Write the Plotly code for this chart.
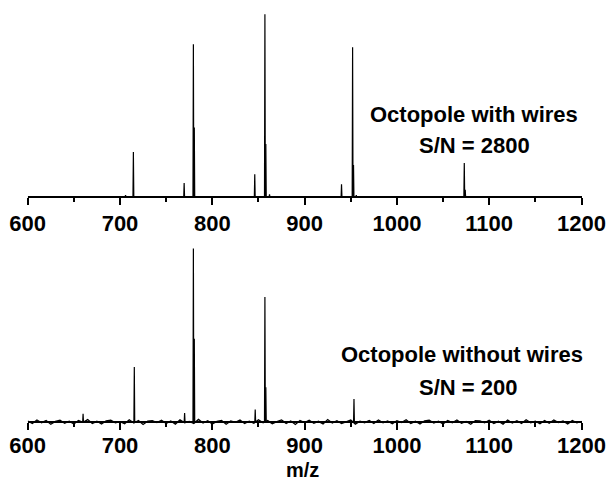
import plotly.graph_objects as go

W, H = 606, 482

# ---- data (relative intensity, %) ----
top_mz = [706, 714.5, 769.5, 779.5, 780.5, 846, 857, 858, 862, 940, 952, 953, 956, 1073, 1074]
top_int = [1.0, 24.6, 7.7, 83.6, 38.0, 12.4, 100.0, 29.0, 1.5, 7.0, 82.0, 17.5, 1.0, 18.6, 4.0]

bot_mz = [660, 715.5, 770, 779.5, 780.5, 846.5, 857, 858, 953.5]
bot_int = [4.8, 31.7, 5.2, 100.0, 48.0, 7.2, 72.1, 20.0, 13.3]

noise_start, noise_step = 600, 5
noise = [0.6, -0.9, 1.2, -0.4, 0.8, -1.3, 0.3, 1.0, -0.7, 0.5,
         -1.1, 0.9, -0.2, 1.4, -0.8, 0.4, -1.2, 0.7, 1.1, -0.5,
         0.2, -1.0, 1.3, -0.6, 0.9, -1.4, 0.5, 0.8, -0.3, 1.0,
         -0.9, 0.6, -1.2, 1.2, -0.4, 0.3, -0.8, 1.5, -0.6, 0.7,
         -1.1, 0.4, 0.9, -1.3, 0.6, -0.2, 1.1, -0.9, 0.5, -0.7,
         1.3, -0.5, 0.8, -1.0, 0.2, 1.2, -0.8, 0.6, -1.4, 0.9,
         -0.3, 1.0, -0.7, 0.4, -1.1, 1.4, -0.6, 0.7, -0.9, 0.3,
         1.1, -1.2, 0.5, -0.4, 0.9, -0.8, 1.2, -0.5, 0.6, -1.0,
         0.8, -0.3, 1.3, -0.9, 0.4, -1.2, 0.7, 1.0, -0.6, 0.5,
         -1.1, 0.9, -0.4, 1.2, -0.7, 0.3, -1.3, 0.8, 0.6, -0.5,
         1.0, -0.9, 0.4, -1.2, 1.1, -0.6, 0.7, -0.8, 1.3, -0.4,
         0.5, -1.0, 0.9, -0.7, 1.2, -0.3, 0.6, -1.1, 0.8, -0.5, 0.4]

tick_vals = [600, 700, 800, 900, 1000, 1100, 1200]
tick_text = ["600", "700", "800", "900", "1000", "1100", "1200"]
minor_vals = [650, 750, 850, 950, 1050, 1150]

labels_top = ["Octopole with wires", "S/N = 2800"]
labels_bot = ["Octopole without wires", "S/N = 200"]
xlabel = "m/z"

FONT = "Arial, Liberation Sans, Helvetica, sans-serif"


def spikes(mz, inten):
    xs, ys = [], []
    for m, h in sorted(zip(mz, inten)):
        xs += [m - 0.45, m, m + 0.45, None]
        ys += [0, h, 0, None]
    return xs, ys


def py(p):
    return 1 - p / H


fig = go.Figure()

# top spectrum
tx, ty = spikes(top_mz, top_int)
fig.add_trace(go.Scatter(x=[600, 1200], y=[0, 0], mode="lines",
                         line=dict(color="black", width=1), xaxis="x", yaxis="y",
                         hoverinfo="skip"))
fig.add_trace(go.Scatter(x=tx, y=ty, mode="lines", line=dict(color="black", width=1.2),
                         xaxis="x", yaxis="y", connectgaps=False))

# bottom spectrum
nx = [noise_start + i * noise_step for i in range(len(noise))]
fig.add_trace(go.Scatter(x=nx, y=noise, mode="lines", line=dict(color="black", width=1.3),
                         xaxis="x2", yaxis="y2"))
bx, by = spikes(bot_mz, bot_int)
fig.add_trace(go.Scatter(x=bx, y=by, mode="lines", line=dict(color="black", width=1.2),
                         xaxis="x2", yaxis="y2", connectgaps=False))

xdom = [27.7 / W, 581.5 / W]
axis_common = dict(
    range=[600, 1200], domain=xdom, tickvals=tick_vals, ticktext=tick_text,
    ticks="outside", ticklen=7, tickwidth=2, tickcolor="black",
    showline=True, linewidth=2, linecolor="black",
    showgrid=False, zeroline=False, automargin=False,
    tickfont=dict(family=FONT, size=22, color="black", weight="bold"),
    minor=dict(tickvals=minor_vals, ticks="outside", ticklen=4, tickwidth=1.5,
               tickcolor="black", showgrid=False),
    fixedrange=True,
)

top_scale = 182.7 / 100.0
bot_scale = 173.4 / 100.0

fig.update_layout(
    width=W, height=H,
    margin=dict(l=0, r=0, t=0, b=0, autoexpand=False),
    paper_bgcolor="white", plot_bgcolor="white",
    showlegend=False,
    xaxis=dict(anchor="free", position=py(197), **axis_common),
    yaxis=dict(domain=[py(200), py(10)], range=[-3 / top_scale, 187 / top_scale],
               visible=False, anchor="x", automargin=False),
    xaxis2=dict(anchor="free", position=py(422), ticklabelstandoff=-3, **axis_common),
    yaxis2=dict(domain=[py(428), py(240)], range=[-6 / bot_scale, 182 / bot_scale],
                visible=False, anchor="x2", automargin=False),
)

ann_font = dict(family=FONT, size=22, color="black", weight="bold")
for text, cx, cy in [(labels_top[0], 474, 114), (labels_top[1], 474.5, 145),
                     (labels_bot[0], 462, 354), (labels_bot[1], 468, 387)]:
    fig.add_annotation(text=text, x=cx / W, y=py(cy), xref="paper", yref="paper",
                       xanchor="center", yanchor="middle", showarrow=False, font=ann_font)

fig.add_annotation(text=xlabel, x=302 / W, y=0, xref="paper", yref="paper",
                   xanchor="center", yanchor="bottom", showarrow=False, borderpad=0,
                   font=dict(family=FONT, size=20, color="black", weight="bold"))

fig.write_html("out.html", config={"displayModeBar": False},
               post_script="document.body.style.margin='0';document.body.style.padding='0';")
